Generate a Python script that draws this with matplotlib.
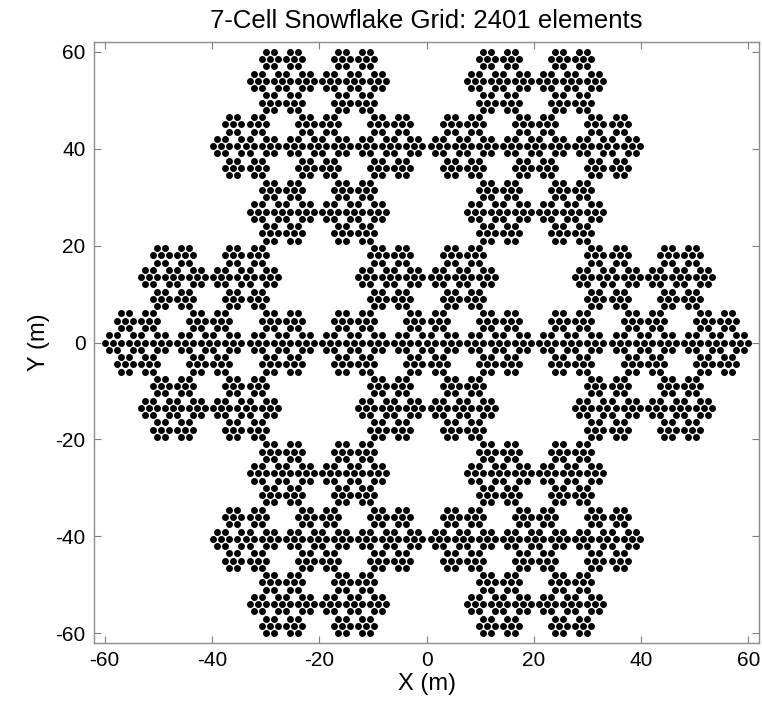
import numpy as np
import matplotlib
matplotlib.use("Agg")
import matplotlib.pyplot as plt

# Unit offsets of the 7-cell pattern (centre + 6 neighbours, rows horizontal)
cell_dx = [0.0, 1.0, 0.5, -0.5, -1.0, -0.5, 0.5]
cell_dy = [0.0, 0.0, 1.0, 1.0, 0.0, -1.0, -1.0]
# Offset length of each nesting level (m), smallest to largest
level_step = [1.5, 4.5, 13.5, 40.5]

title_text = "7-Cell Snowflake Grid: 2401 elements"
x_ticks = [-60, -40, -20, 0, 20, 40, 60]
y_ticks = [-60, -40, -20, 0, 20, 40, 60]

xs = np.array([0.0])
ys = np.array([0.0])
for s in level_step:
    xs = (xs[:, None] + s * np.array(cell_dx)[None, :]).ravel()
    ys = (ys[:, None] + s * np.array(cell_dy)[None, :]).ravel()

plt.rcParams['font.family'] = ['Liberation Sans', 'DejaVu Sans']
plt.rcParams['axes.unicode_minus'] = False

fig = plt.figure(figsize=(7.62, 7.02), dpi=100)
ax = fig.add_axes([94/762, 1 - 643/702, (759-94)/762, (643-42)/702])
ax.plot(xs, ys, 'o', color='black', markersize=5.0, markeredgewidth=0)

ax.set_xlim(-62, 62)
ax.set_ylim(-62, 62)
ax.set_xticks(x_ticks)
ax.set_yticks(y_ticks)
ax.tick_params(direction='in', top=True, right=True, length=5, width=0.8,
               color='#7f7f7f', labelsize=15, pad=6)
for sp in ax.spines.values():
    sp.set_color('#8c8c8c')
    sp.set_linewidth(1.0)
ax.set_xlabel("X (m)", fontsize=17, labelpad=2)
ax.set_ylabel("Y (m)", fontsize=17, labelpad=4)
ax.set_title(title_text, fontsize=18.5, pad=10)

fig.savefig("out.png", dpi=100)
